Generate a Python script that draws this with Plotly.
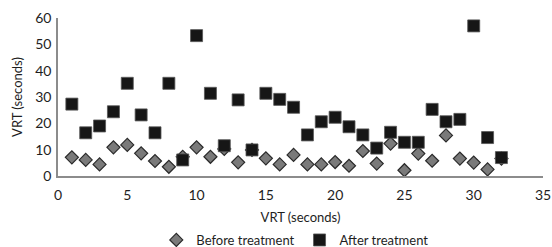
import plotly.graph_objects as go

x_vals = list(range(1, 33))
before = [7.1, 6.1, 4.4, 10.9, 11.8, 8.6, 5.7, 3.5, 7.3, 10.9,
          7.3, 10.3, 5.2, 9.9, 6.7, 4.4, 8.0, 4.4, 4.4, 5.3,
          3.9, 9.5, 4.7, 12.3, 2.2, 8.5, 5.8, 15.4, 6.6, 5.1,
          2.5, 6.6]
after = [27.3, 16.4, 19.0, 24.4, 35.2, 23.2, 16.4, 35.2, 6.1, 53.3,
         31.4, 11.5, 28.9, 9.9, 31.4, 29.1, 26.1, 15.6, 20.6, 22.3,
         18.7, 15.6, 10.6, 16.6, 12.8, 12.8, 25.3, 20.6, 21.5, 57.0,
         14.6, 7.0]

FONT = "Lato"

fig = go.Figure()
fig.add_trace(go.Scatter(
    x=x_vals, y=before, mode="markers", name="Before treatment",
    marker=dict(symbol="diamond", size=10, color="#7a7a7a",
                line=dict(color="#2a2a2a", width=1.2)),
))
fig.add_trace(go.Scatter(
    x=x_vals, y=after, mode="markers", name="After treatment",
    marker=dict(symbol="square", size=12, color="#161616",
                line=dict(color="#555555", width=0.8)),
))

fig.update_layout(
    width=552, height=247,
    margin=dict(l=58, r=9, t=18, b=71, autoexpand=False),
    paper_bgcolor="white", plot_bgcolor="white",
    font=dict(family=FONT, size=14, color="#1e1e1e"),
    showlegend=True,
    legend=dict(orientation="h", x=0.535, xanchor="center", xref="container",
                y=7 / 247, yanchor="middle", yref="container",
                font=dict(size=13), itemwidth=30, tracegroupgap=0,
                itemsizing="trace"),
)
fig.update_xaxes(
    range=[0, 35], dtick=5, tick0=0, showgrid=False, zeroline=False,
    showline=True, linecolor="#8c8c8c", linewidth=1.5, ticks="",
    automargin=False, ticklabelstandoff=5,
    tickfont=dict(size=14), title=dict(text="VRT (seconds)", standoff=13,
                                        font=dict(size=13)),
)
fig.update_yaxes(
    range=[0, 60], dtick=10, tick0=0, showgrid=False, zeroline=False,
    showline=True, linecolor="#8c8c8c", linewidth=1.5, ticks="",
    automargin=False, ticklabelstandoff=2,
    tickfont=dict(size=14), title=dict(text="VRT (seconds)", standoff=10,
                                        font=dict(size=13)),
)

fig.write_html(
    "out.html",
    config={"displayModeBar": False},
    post_script="document.body.style.margin='0';document.body.style.padding='0';",
)
